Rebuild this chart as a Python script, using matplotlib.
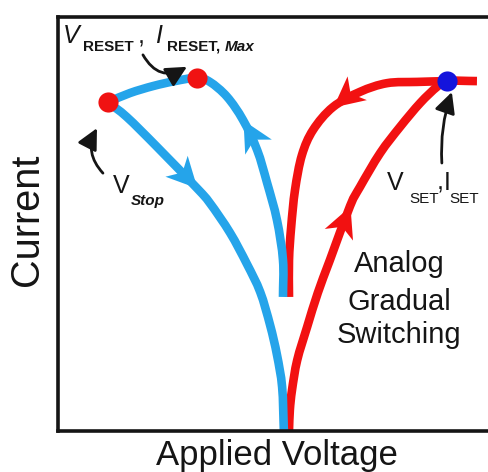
import numpy as np
import matplotlib
matplotlib.use("Agg")
import matplotlib.pyplot as plt
from matplotlib.path import Path
from matplotlib.patches import PathPatch
from matplotlib.markers import MarkerStyle
from matplotlib.transforms import Affine2D, offset_copy

plt.rcParams['font.family'] = ['Liberation Sans', 'DejaVu Sans']

# RESET sweep: rises to I_RESET,Max, then falls back through V_Stop to zero
reset_v = [-0.07, -0.07, -0.21, -0.44, -0.67, -1.00, -1.37, -1.77, -2.07,
           -2.58, -3.09, -3.63, -4.14,
           -3.70, -3.00, -2.07, -1.77, -1.30, -0.91, -0.60, -0.37, -0.21, -0.09, -0.05]
reset_i = [3.23, 4.12, 5.09, 5.99, 6.78, 7.51, 8.07, 8.43, 8.53,
           8.45, 8.33, 8.16, 7.94,
           7.58, 6.86, 5.86, 5.50, 4.78, 4.03, 3.35, 2.55, 1.83, 1.05, 0.00]
reset_max_idx = 8
stop_idx = 12
reset_arrow_idx = [5, 15]

# SET sweep: rising branch up to the compliance level
set_up_v = [0.07, 0.09, 0.14, 0.26, 0.49, 0.74, 1.02, 1.49, 1.72, 2.19, 2.65,
            3.12, 3.51, 3.74, 4.44]
set_up_i = [0.00, 0.50, 0.98, 1.70, 2.50, 3.33, 4.12, 5.43, 5.89, 6.71, 7.34,
            7.92, 8.31, 8.45, 8.45]
set_idx = 13
set_up_arrow_idx = [7]

# SET sweep: return branch
set_back_v = [3.74, 3.05, 2.35, 1.72, 1.09, 0.63, 0.37, 0.21, 0.12, 0.07, 0.07]
set_back_i = [8.45, 8.43, 8.40, 8.19, 7.82, 7.27, 6.66, 5.82, 4.92, 4.12, 3.23]
set_back_arrow_idx = [4]

BLUE = '#25a4ea'
RED = '#f21111'
DOT_RED = '#f01212'
DOT_BLUE = '#1414dc'
INK = '#151515'

fig = plt.figure(figsize=(4.89, 4.72), dpi=100)
ax = fig.add_axes([0.1196, 0.0879, 0.8804, 0.8761])
ax.set_xlim(-5.29, 4.72)
ax.set_ylim(0, 10)
ax.set_xticks([])
ax.set_yticks([])
for side in ('left', 'top', 'bottom'):
    ax.spines[side].set_linewidth(2.6)
    ax.spines[side].set_color(INK)
ax.spines['right'].set_visible(False)


def smooth_curve(v, i, color, corners=(), z=2):
    """Draw a smooth curve through the measured points (Catmull-Rom as cubic Bezier)."""
    p = np.column_stack([v, i]).astype(float)
    n = len(p)
    tang = np.zeros_like(p)
    for k in range(n):
        lo = k - 1 if k > 0 and k not in corners else k
        hi = k + 1 if k < n - 1 and k not in corners else k
        tang[k] = (p[hi] - p[lo]) / (hi - lo if hi != lo else 1)
    verts = [p[0]]
    codes = [Path.MOVETO]
    for k in range(n - 1):
        seg = p[k + 1] - p[k]
        t0 = tang[k] if k not in corners else seg
        t1 = tang[k + 1] if (k + 1) not in corners else seg
        if k == 0:
            t0 = seg
        if k + 1 == n - 1:
            t1 = seg
        verts += [p[k] + t0 / 3, p[k + 1] - t1 / 3, p[k + 1]]
        codes += [Path.CURVE4] * 3
    ax.add_patch(PathPatch(Path(verts, codes), fill=False, edgecolor=color, lw=6.2,
                           capstyle='butt', joinstyle='round', zorder=z))


smooth_curve(set_up_v, set_up_i, RED)
smooth_curve(set_back_v, set_back_i, RED)
smooth_curve(reset_v, reset_i, BLUE, corners=(stop_idx,), z=2.5)

# notched arrowheads sitting on the sweep curves
head_path = Path([(0, 0), (-1, 0.5), (-0.72, 0), (-1, -0.5), (0, 0)],
                 [Path.MOVETO, Path.LINETO, Path.LINETO, Path.LINETO, Path.CLOSEPOLY])


def curve_head(v, i, k, color):
    p0 = ax.transData.transform((v[k - 1], i[k - 1]))
    p1 = ax.transData.transform((v[k + 1], i[k + 1]))
    ang = np.degrees(np.arctan2(p1[1] - p0[1], p1[0] - p0[0]))
    m = MarkerStyle(head_path, transform=Affine2D().rotate_deg(ang))
    ax.plot(v[k], i[k], marker=m, ms=44, color=color, mew=0, zorder=3)


for k in reset_arrow_idx:
    curve_head(reset_v, reset_i, k, BLUE)
for k in set_up_arrow_idx:
    curve_head(set_up_v, set_up_i, k, RED)
for k in set_back_arrow_idx:
    curve_head(set_back_v, set_back_i, k, RED)

# switching points
dot_kw = dict(marker='o', ms=14.5, mew=0, zorder=4, ls='none')
ax.plot([reset_v[reset_max_idx], reset_v[stop_idx]],
        [reset_i[reset_max_idx], reset_i[stop_idx]], color=DOT_RED, **dot_kw)
ax.plot([set_up_v[set_idx]], [set_up_i[set_idx]], color=DOT_BLUE, **dot_kw)

# pointer arrows to the switching points
arrow_kw = dict(arrowstyle='-|>,head_length=0.7,head_width=0.35', color=INK,
                lw=2.0, mutation_scale=18, shrinkA=0, shrinkB=0)


def pointer(xy, tip_off, tail_off, rad):
    ax.annotate('', xy=xy,
                xycoords=offset_copy(ax.transData, fig=fig, x=tip_off[0], y=tip_off[1], units='points'),
                xytext=tail_off, textcoords='offset points',
                arrowprops=dict(connectionstyle=f'arc3,rad={rad}', **arrow_kw))


pointer((reset_v[reset_max_idx], reset_i[reset_max_idx]), (-7.2, 7.9), (-31.7, 8.6), 0.5)
pointer((reset_v[stop_idx], reset_i[stop_idx]), (-7.9, -18.7), (4.3, -32.4), -0.35)
pointer((set_up_v[set_idx], set_up_i[set_idx]), (3.6, -7.9), (-7.2, -51.1), -0.1)

# labels of the switching points
big = 18
small = 11
txt = dict(va='baseline', ha='left', color=INK)
ax.text(-5.19, 9.37, 'V', fontsize=big, style='italic', **txt)
ax.text(-4.72, 9.18, 'RESET', fontsize=small, weight='bold', **txt)
ax.text(-3.44, 9.37, ',', fontsize=big, **txt)
ax.text(-3.05, 9.37, 'I', fontsize=big, style='italic', **txt)
ax.text(-2.77, 9.18, 'RESET,', fontsize=small, weight='bold', **txt)
ax.text(-1.42, 9.18, 'Max', fontsize=small, weight='bold', style='italic', **txt)

ax.text(-4.02, 5.74, 'V', fontsize=big, **txt)
ax.text(-3.60, 5.45, 'Stop', fontsize=small, weight='bold', style='italic', **txt)

ax.text(2.35, 5.82, 'V', fontsize=big, **txt)
ax.text(2.86, 5.50, 'SET', fontsize=small, **txt)
ax.text(3.51, 5.82, ',', fontsize=big, **txt)
ax.text(3.67, 5.82, 'I', fontsize=big, **txt)
ax.text(3.79, 5.50, 'SET', fontsize=small, **txt)

for y, word in zip([3.83, 2.91, 2.12], ['Analog', 'Gradual', 'Switching']):
    ax.text(2.63, y, word, fontsize=21, ha='center', va='baseline', color=INK)

ax.text(-0.21, -0.83, 'Applied Voltage', fontsize=25, ha='center', va='baseline',
        color=INK, clip_on=False)
ax.text(-6.02, 5.09, 'Current', fontsize=28.5, rotation=90, ha='center', va='center',
        color=INK, clip_on=False)

fig.savefig('out.png', dpi=100)
